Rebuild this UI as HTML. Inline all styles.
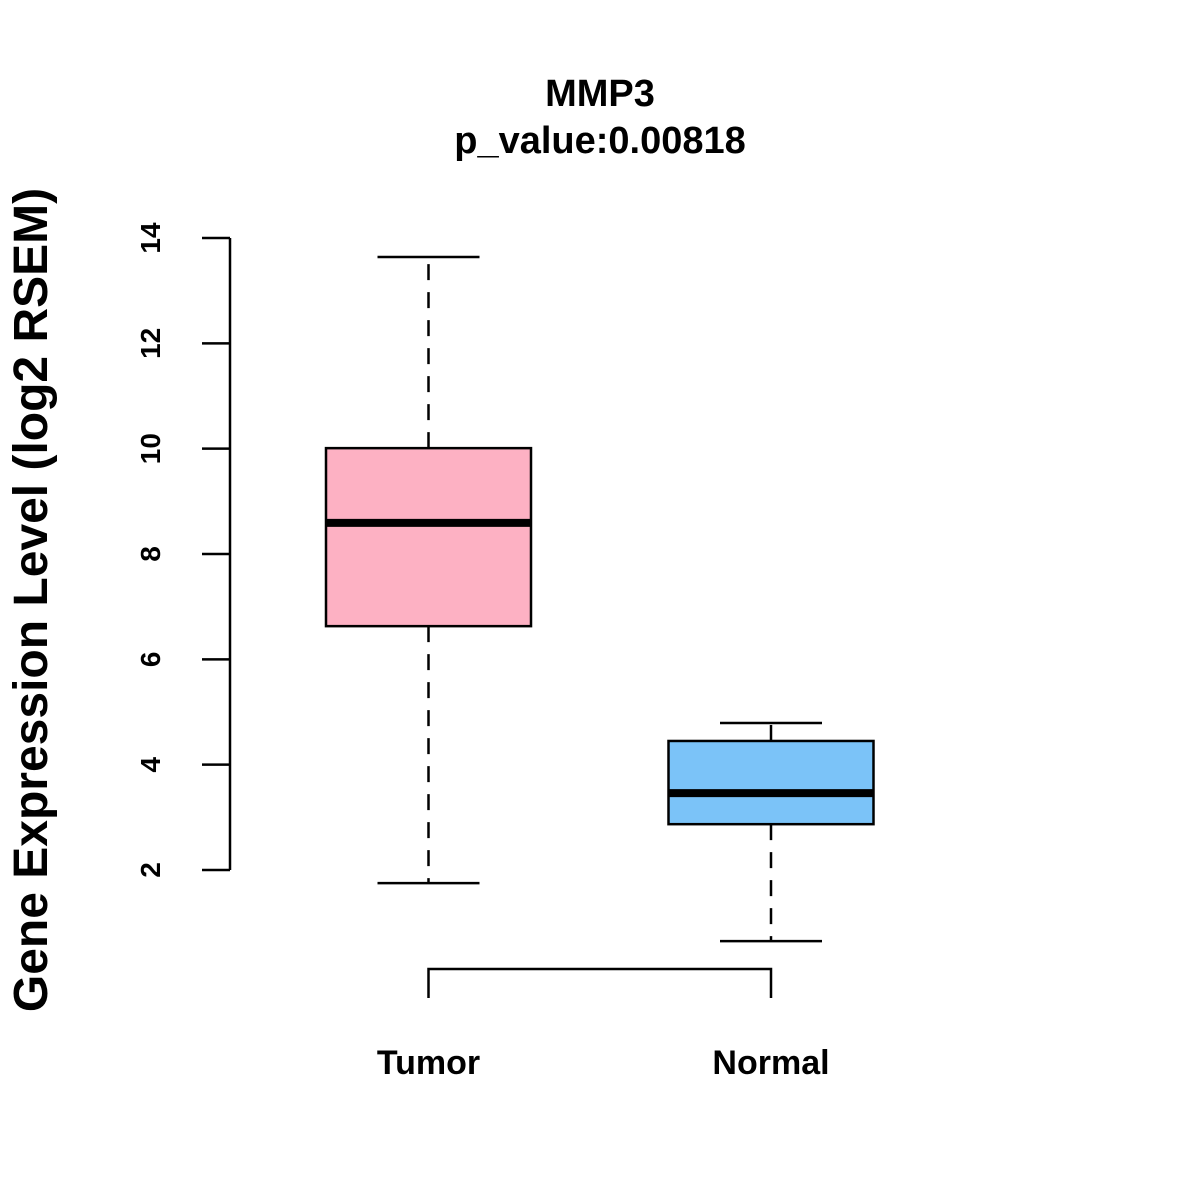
<!DOCTYPE html>
<html><head><meta charset="utf-8"><style>
html,body{margin:0;padding:0;background:#fff;}
svg{display:block;font-family:"Liberation Sans",Arial,sans-serif;font-weight:bold;}
</style></head><body>
<svg id="chart" width="1200" height="1200" viewBox="0 0 1200 1200">
<text x="600" y="106" text-anchor="middle" font-size="38">MMP3</text>
<text x="600" y="153" text-anchor="middle" font-size="38">p_value:0.00818</text>
<text transform="translate(47,600) rotate(-90)" text-anchor="middle" font-size="48">Gene Expression Level (log2 RSEM)</text>
<g id="yaxis"></g>
<g id="boxes"></g>
<g id="bracket"></g>
</svg>
<script>
const categories = ["Tumor", "Normal"];
const whiskerLow = [1.75, 0.65];
const q1 = [6.63, 2.87];
const medians = [8.59, 3.46];
const q3 = [10.01, 4.45];
const whiskerHigh = [13.64, 4.79];
const tickValues = [2, 4, 6, 8, 10, 12, 14];
const fills = ["#FDB1C3", "#7BC3F8"];

const NS = "http://www.w3.org/2000/svg";
function y(v){ return 870 - (v - 2) * (632 / 12); }
function x(i){ return 428.5 + i * 342.5; }
function mk(tag, attrs, parent){
  const e = document.createElementNS(NS, tag);
  for (const k in attrs) e.setAttribute(k, attrs[k]);
  parent.appendChild(e);
  return e;
}
const yaxis = document.getElementById('yaxis');
const axisLine = mk('line', {x1:230, x2:230, y1:y(tickValues[0]), y2:y(tickValues[tickValues.length-1]), stroke:'#000', 'stroke-width':2.5}, yaxis);


tickValues.forEach(v => {
  const t = mk('line', {x1:202, x2:230, y1:y(v), y2:y(v), stroke:'#000', 'stroke-width':2.5}, yaxis);
  
  
  const l = mk('text', {transform:`translate(160,${y(v)}) rotate(-90)`, 'text-anchor':'middle', 'font-size':28}, yaxis);
  l.textContent = v;
  
  
});
const boxes = document.getElementById('boxes');
categories.forEach((c, i) => {
  const cx = x(i);
  const g = mk('g', {}, boxes);
  
  
  mk('line', {x1:cx, x2:cx, y1:y(q3[i]), y2:y(whiskerHigh[i]), stroke:'#000', 'stroke-width':2.5, 'stroke-dasharray':'16,12'}, g);
  mk('line', {x1:cx, x2:cx, y1:y(q1[i]), y2:y(whiskerLow[i]), stroke:'#000', 'stroke-width':2.5, 'stroke-dasharray':'16,12'}, g);
  mk('line', {x1:cx-51, x2:cx+51, y1:y(whiskerHigh[i]), y2:y(whiskerHigh[i]), stroke:'#000', 'stroke-width':2.5}, g);
  mk('line', {x1:cx-51, x2:cx+51, y1:y(whiskerLow[i]), y2:y(whiskerLow[i]), stroke:'#000', 'stroke-width':2.5}, g);
  mk('rect', {x:cx-102.5, y:y(q3[i]), width:205, height:y(q1[i])-y(q3[i]), fill:fills[i], stroke:'#000', 'stroke-width':2.5}, g);
  mk('line', {x1:cx-102.5, x2:cx+102.5, y1:y(medians[i]), y2:y(medians[i]), stroke:'#000', 'stroke-width':8}, g);
  const lab = mk('text', {x:cx, y:1074, 'text-anchor':'middle', 'font-size':34}, g);
  lab.textContent = c;
  
  
});
const br = document.getElementById('bracket');
mk('polyline', {points:`${x(0)},998 ${x(0)},969 ${x(1)},969 ${x(1)},998`, fill:'none', stroke:'#000', 'stroke-width':2.5}, br);
</script>
</body></html>
